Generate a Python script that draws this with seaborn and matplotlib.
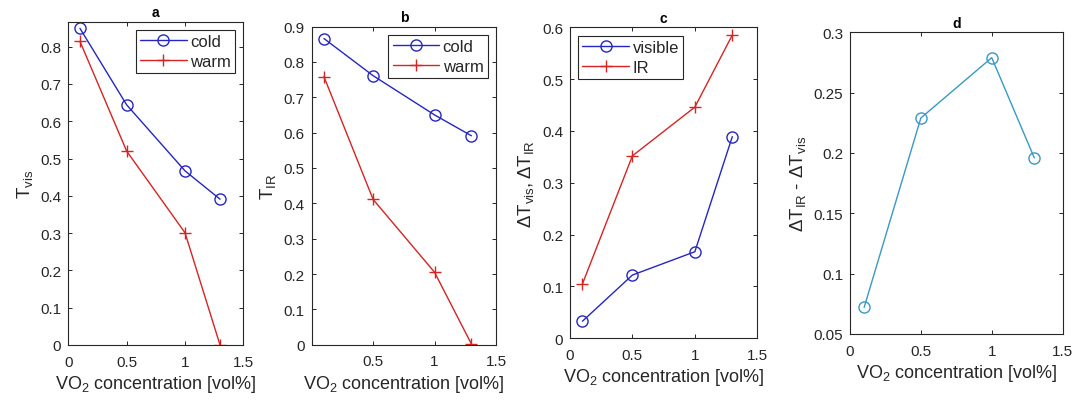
import matplotlib
matplotlib.use("Agg")
import matplotlib.pyplot as plt
import seaborn as sns
import pandas as pd

conc = [0.1, 0.5, 1.0, 1.3]
a_cold = [0.849, 0.644, 0.467, 0.391]
a_warm = [0.814, 0.520, 0.301, 0.0]
b_cold = [0.866, 0.761, 0.650, 0.591]
b_warm = [0.758, 0.411, 0.205, 0.002]
c_visible = [0.033, 0.122, 0.167, 0.389]
c_ir = [0.105, 0.352, 0.446, 0.585]
d_diff = [0.072, 0.229, 0.279, 0.196]

sns.set_theme(style="ticks")
plt.rcParams['font.family'] = ['Liberation Sans', 'DejaVu Sans']
plt.rcParams['mathtext.fontset'] = 'custom'
plt.rcParams['mathtext.rm'] = 'Liberation Sans'
plt.rcParams['mathtext.it'] = 'Liberation Sans:italic'
plt.rcParams['mathtext.bf'] = 'Liberation Sans:bold'

BLUE = "#2626c0"
RED = "#d42424"
TEAL = "#3a98c4"
TXT = "#262626"

fig = plt.figure(figsize=(10.74, 4.06), dpi=100)
positions = [
    [0.0636, 0.1478, 0.1630, 0.7963],
    [0.2902, 0.1485, 0.1716, 0.7837],
    [0.5307, 0.1643, 0.1744, 0.7660],
    [0.7914, 0.1749, 0.1980, 0.7430],
]
axes = [fig.add_axes(p) for p in positions]

def series(ax, y, color, marker, label=None):
    df = pd.DataFrame({"x": conc, "y": y})
    kw = dict(marker=marker, markersize=8, markeredgewidth=1.0, markeredgecolor=color)
    if marker == 'o':
        kw['markerfacecolor'] = 'none'
    sns.lineplot(data=df, x="x", y="y", ax=ax, color=color, linewidth=1.0,
                 label=label, legend=False, **kw)

series(axes[0], a_cold, BLUE, 'o', 'cold')
series(axes[0], a_warm, RED, '+', 'warm')
series(axes[1], b_cold, BLUE, 'o', 'cold')
series(axes[1], b_warm, RED, '+', 'warm')
series(axes[2], c_visible, BLUE, 'o', 'visible')
series(axes[2], c_ir, RED, '+', 'IR')
series(axes[3], d_diff, TEAL, 'o')

titles = ['a', 'b', 'c', 'd']
ylabels = [r'$\mathregular{T_{vis}}$', r'$\mathregular{T_{IR}}$',
           r'$\mathregular{\Delta T_{vis}, \Delta T_{IR}}$',
           r'$\mathregular{\Delta T_{IR}\ \text{-}\ \Delta T_{vis}}$']
ylims = [(0, 0.867), (0, 0.9), (0, 0.6), (0.05, 0.3)]
yticks = [[0, 0.1, 0.2, 0.3, 0.4, 0.5, 0.6, 0.7, 0.8],
          [0, 0.1, 0.2, 0.3, 0.4, 0.5, 0.6, 0.7, 0.8, 0.9],
          [0, 0.1, 0.2, 0.3, 0.4, 0.5, 0.6],
          [0.05, 0.1, 0.15, 0.2, 0.25, 0.3]]
xticks = [[0, 0.5, 1, 1.5], [0.5, 1, 1.5], [0, 0.5, 1, 1.5], [0, 0.5, 1, 1.5]]

def fmt(v):
    return '%g' % v

for i, ax in enumerate(axes):
    ax.set_xlim(0, 1.5)
    ax.set_ylim(*ylims[i])
    ax.set_xticks(xticks[i])
    ax.set_xticklabels([fmt(v) for v in xticks[i]])
    ax.set_yticks(yticks[i])
    ax.set_yticklabels([fmt(v) for v in yticks[i]])
    ax.tick_params(direction='in', length=3, width=0.7, top=True, right=True,
                   labelsize=11, colors=TXT, pad=5)
    ax.tick_params(axis='x', pad=7)
    for s in ax.spines.values():
        s.set_visible(True)
        s.set_color("#262626")
        s.set_linewidth(0.8)
    ax.set_title(titles[i], fontsize=10, fontweight='bold', color='black', pad=4)
    ax.set_xlabel(r'$\mathregular{VO_2}$ concentration [vol%]', fontsize=13, color=TXT, labelpad=3)
    ax.set_ylabel(ylabels[i], fontsize=13.5, color=TXT, labelpad=4)

for i, loc in [(0, 'upper right'), (1, 'upper right'), (2, 'upper left')]:
    leg = axes[i].legend(loc=loc, fontsize=12, frameon=True, fancybox=False,
                         edgecolor='#262626', framealpha=1, handlelength=2.8,
                         borderpad=0.25, labelspacing=0.3, handletextpad=0.2,
                         borderaxespad=0.5)
    leg.get_frame().set_linewidth(0.8)

fig.savefig("out.png", dpi=100)
